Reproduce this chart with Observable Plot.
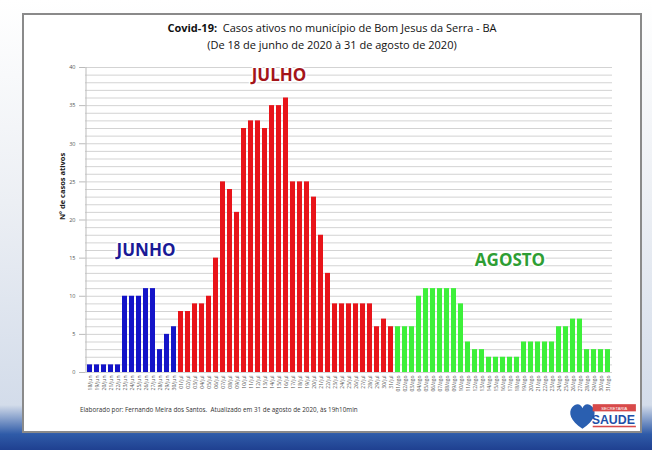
<!DOCTYPE html>
<html>
<head>
<meta charset="utf-8">
<script src="https://cdn.jsdelivr.net/npm/d3@7"></script>
<script src="https://cdn.jsdelivr.net/npm/@observablehq/plot@0.6"></script>
<style>
  html, body { margin: 0; padding: 0; }
  body {
    width: 652px; height: 450px; overflow: hidden; position: relative;
    background: linear-gradient(to bottom, #ffffff 0%, #eceff4 45%, #d3dcea 90%, #2f5ba8 96.5%, #1f4090 100%);
    font-family: "Open Sans", "Noto Sans", sans-serif;
  }
  #card {
    position: absolute; left: 22px; top: 13px; width: 620px; height: 420px;
    background: #fff; border: 2px solid #8a8a8a; box-sizing: border-box;
  }
  #title {
    position: absolute; left: 22px; top: 19px; width: 620px; text-align: center;
    font-size: 11px; line-height: 17px; color: #111;
  }
  #chart { position: absolute; left: 30px; top: 55px; }
  #footer {
    position: absolute; left: 80px; top: 405px; font-size: 6.3px; color: #333;
  }
  #logo { position: absolute; left: 568px; top: 398px; width: 70px; height: 37px; }
</style>
</head>
<body>
<div id="card"></div>
<div id="title"><b>Covid-19:</b>&nbsp; Casos ativos no município de Bom Jesus da Serra - BA<br>(De 18 de junho de 2020 à 31 de agosto de 2020)</div>
<div id="chart"></div>
<div id="footer">Elaborado por: Fernando Meira dos Santos.&nbsp; Atualizado em 31 de agosto de 2020, às 19h10min</div>
<svg id="logo" viewBox="0 0 68 36">
  <path d="M14 30 C2 22 0 14 4 9 C8 4 13 6 14 10 C15 6 20 4 24 9 C28 14 26 22 14 30 Z" fill="#2a5fb0"/>
  <rect x="24" y="6" width="42" height="7" fill="#d84a4a"/>
  <text x="45" y="11.5" font-size="4" fill="#fff" text-anchor="middle" font-family="Liberation Sans">SECRETARIA</text>
  <text x="44" y="25" font-size="12" font-weight="bold" fill="#1f4fa8" text-anchor="middle" font-family="Liberation Sans">SAUDE</text>
  <rect x="24" y="27" width="42" height="1.5" fill="#d84a4a"/>
</svg>
<script>
// ---- data ----
const months = ["jun", "jul", "ago"];
const monthFirstDay = [18, 1, 1];
const junho  = [1,1,1,1,1,10,10,10,11,11,3,5,6];
const julho  = [8,8,9,9,10,15,25,24,21,32,33,33,32,35,35,36,25,25,25,23,18,13,9,9,9,9,9,9,6,7,6];
const agosto = [6,6,6,10,11,11,11,11,11,9,4,3,3,2,2,2,2,2,4,4,4,4,4,6,6,7,7,3,3,3,3];
const monthValues = [junho, julho, agosto];
const monthTitles = ["JUNHO", "JULHO", "AGOSTO"];
const monthTitleX = ["26/jun", "15/jul", "17/ago"];
const monthTitleY = [16, 39, 14.7];
const yTicks = [0, 5, 10, 15, 20, 25, 30, 35, 40];

const colors = {jun: "#1414c8", jul: "#e8141a", ago: "#3df03a"};
const titleColors = {JUNHO: "#1a1a96", JULHO: "#a4141a", AGOSTO: "#2e9e34"};

const rows = [];
months.forEach((m, mi) => {
  monthValues[mi].forEach((v, k) => {
    const day = monthFirstDay[mi] + k;
    rows.push({date: String(day).padStart(2, "0") + "/" + m, month: m, value: v});
  });
});
const labels = rows.map(d => d.date);
const titles = monthTitles.map((t, i) => ({text: t, x: monthTitleX[i], y: monthTitleY[i]}));

const chart = Plot.plot({
  width: 600,
  height: 345,
  marginLeft: 55,
  marginRight: 18,
  marginTop: 12,
  marginBottom: 28,
  style: {fontFamily: "Open Sans, sans-serif", background: "transparent"},
  x: {type: "band", domain: labels, paddingInner: 0.25, paddingOuter: 0.1, label: null},
  y: {domain: [0, 40], label: null},
  marks: [
    Plot.gridY(d3.range(0, 41, 1), {stroke: "#c8c8c8", strokeOpacity: 1, strokeWidth: 0.8}),
    Plot.barY(rows, {x: "date", y: "value", fill: d => colors[d.month]}),
    Plot.text(titles, {
      x: "x", y: "y", text: "text", fill: d => titleColors[d.text],
      fontSize: 17, fontWeight: "bold", fontFamily: "Open Sans, sans-serif",
      stroke: "white", strokeWidth: 3, paintOrder: "stroke"
    }),
    Plot.ruleX([0], {x: () => labels[0], dx: -4, stroke: "#bbb"}),
    Plot.axisY({ticks: yTicks, fontSize: 5.5, tickSize: 6, tickPadding: 4, stroke: "#bbb", fill: "#555", label: null}),
    Plot.axisX({tickRotate: -90, fontSize: 5, tickSize: 0, tickPadding: 3, fill: "#555", label: null}),
    Plot.text(["Nº de casos ativos"], {
      frameAnchor: "left", dx: -23, rotate: -90, fontSize: 7.5, fontWeight: "bold", fill: "#222", text: d => d
    })
  ]
});
document.getElementById("chart").appendChild(chart);
</script>
</body>
</html>
